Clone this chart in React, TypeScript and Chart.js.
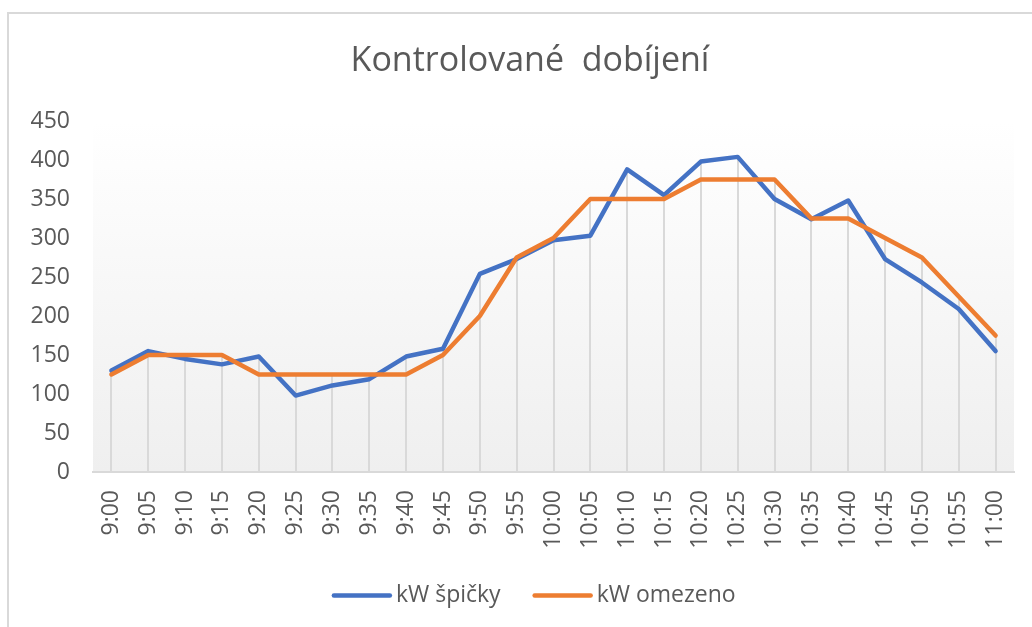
import React, { useEffect, useRef } from "react";
import { Chart, registerables } from "chart.js";

Chart.register(...registerables);

const categories = [
  "9:00", "9:05", "9:10", "9:15", "9:20", "9:25", "9:30", "9:35", "9:40", "9:45",
  "9:50", "9:55", "10:00", "10:05", "10:10", "10:15", "10:20", "10:25", "10:30", "10:35",
  "10:40", "10:45", "10:50", "10:55", "11:00",
];
const peakKW = [
  130, 155, 145, 138, 148, 98, 111, 119, 148, 158,
  254, 273, 297, 303, 388, 355, 398, 404, 350, 324,
  348, 273, 243, 209, 155,
];
const limitedKW = [
  125, 150, 150, 150, 125, 125, 125, 125, 125, 150,
  200, 275, 300, 350, 350, 350, 375, 375, 375, 325,
  325, 300, 275, 225, 175,
];
const seriesNames = ["kW špičky", "kW omezeno"];
const titleText = "Kontrolované  dobíjení";
const yMin = 0;
const yMax = 450;
const yStep = 50;

const FONT = "'Open Sans', sans-serif";
const TEXT = "#595959";
const GRID = "#d9d9d9";
const BLUE = "#4472C4";
const ORANGE = "#ED7D31";
const LEGEND_FONT = 23;
const LEGEND_LINE = 60;
const LEGEND_SHIFT = 7.5;

const plotBackground = {
  id: "plotBackground",
  beforeDraw(chart: any) {
    const { ctx, chartArea } = chart;
    if (!chartArea) return;
    const g = ctx.createLinearGradient(0, chartArea.top, 0, chartArea.bottom);
    g.addColorStop(0, "#ffffff");
    g.addColorStop(1, "#efefef");
    ctx.save();
    ctx.fillStyle = g;
    ctx.fillRect(chartArea.left, chartArea.top, chartArea.right - chartArea.left, chartArea.bottom - chartArea.top);
    ctx.restore();
  },
};

const dropLines = {
  id: "dropLines",
  beforeDatasetsDraw(chart: any) {
    const { ctx, scales } = chart;
    const xs = scales.x;
    const ys = scales.y;
    const ds = chart.data.datasets;
    ctx.save();
    ctx.strokeStyle = GRID;
    ctx.lineWidth = 2;
    for (let i = 0; i < chart.data.labels.length; i++) {
      let m = -Infinity;
      ds.forEach((d: any) => { m = Math.max(m, d.data[i]); });
      const x = Math.round(xs.getPixelForValue(i));
      ctx.beginPath();
      ctx.moveTo(x, ys.getPixelForValue(yMin));
      ctx.lineTo(x, ys.getPixelForValue(m));
      ctx.stroke();
    }
    ctx.restore();
  },
};

// Legend sample lines, placed from the legend's own computed hit boxes
const legendLines = {
  id: "legendLines",
  afterDraw(chart: any) {
    const legend = chart.legend;
    if (!legend || !legend.legendHitBoxes) return;
    const { ctx } = chart;
    ctx.save();
    ctx.lineWidth = 4.5;
    ctx.lineCap = "round";
    legend.legendHitBoxes.forEach((hb: any, i: number) => {
      const d = chart.data.datasets[i];
      const y = hb.top + LEGEND_FONT / 2;
      ctx.strokeStyle = d.borderColor;
      ctx.beginPath();
      ctx.moveTo(hb.left + LEGEND_SHIFT + 2, y);
      ctx.lineTo(hb.left + LEGEND_SHIFT + LEGEND_LINE - 2, y);
      ctx.stroke();
    });
    ctx.restore();
  },
};

export default function App() {
  const ref = useRef<HTMLCanvasElement | null>(null);

  useEffect(() => {
    if (!ref.current) return;
    const chart = new Chart(ref.current, {
      type: "line",
      data: {
        labels: categories,
        datasets: [
          {
            label: seriesNames[0],
            data: peakKW,
            borderColor: BLUE,
            backgroundColor: BLUE,
            borderWidth: 4.5,
            pointRadius: 0,
            tension: 0,
            borderJoinStyle: "round",
            borderCapStyle: "round",
            order: 1,
          },
          {
            label: seriesNames[1],
            data: limitedKW,
            borderColor: ORANGE,
            backgroundColor: ORANGE,
            borderWidth: 4.5,
            pointRadius: 0,
            tension: 0,
            borderJoinStyle: "round",
            borderCapStyle: "round",
            order: 0,
          },
        ],
      },
      options: {
        responsive: false,
        animation: false,
        devicePixelRatio: 1,
        layout: { padding: { left: 10, right: 10, top: 14, bottom: 10 } },
        plugins: {
          title: {
            display: true,
            text: titleText,
            color: TEXT,
            font: { family: FONT, size: 34, weight: "normal", lineHeight: 1.2 },
            padding: { top: 26.6, bottom: 39.6 },
          },
          legend: {
            position: "bottom",
            labels: {
              color: TEXT,
              font: { family: FONT, size: LEGEND_FONT },
              boxWidth: LEGEND_LINE,
              boxHeight: 4,
              padding: 24.5,
              generateLabels: (c: any) =>
                c.data.datasets.map((d: any, i: number) => ({
                  text: d.label,
                  fillStyle: "rgba(0,0,0,0)",
                  strokeStyle: "rgba(0,0,0,0)",
                  lineWidth: 0,
                  fontColor: TEXT,
                  datasetIndex: i,
                  hidden: false,
                })),
            },
          },
          tooltip: { enabled: false },
        },
        scales: {
          x: {
            type: "category",
            offset: true,
            grid: { display: false, offset: false, drawTicks: false },
            border: { display: true, color: GRID, width: 2 },
            ticks: {
              color: TEXT,
              font: { family: FONT, size: 23 },
              minRotation: 90,
              maxRotation: 90,
              autoSkip: false,
              padding: 18,
            },
            afterFit: (s: any) => { s.height = 87.5; },
          },
          y: {
            min: yMin,
            max: yMax,
            grid: { display: false, drawTicks: false },
            border: { display: false },
            ticks: {
              stepSize: yStep,
              color: TEXT,
              font: { family: FONT, size: 23 },
              padding: 23,
            },
            afterFit: (s: any) => { s.width = 83; },
          },
          spacer: {
            type: "linear",
            position: "right",
            display: true,
            grid: { display: false, drawTicks: false },
            border: { display: false },
            ticks: { display: false },
            afterFit: (s: any) => { s.width = 36; },
          },
        },
      },
      plugins: [plotBackground, dropLines, legendLines],
    });
    return () => chart.destroy();
  }, []);

  return (
    <div
      style={{
        position: "fixed",
        left: 0,
        top: 0,
        width: 1032,
        height: 627,
        overflow: "hidden",
        background: "#ffffff",
      }}
    >
      <canvas ref={ref} width={1060} height={627} style={{ position: "absolute", left: 0, top: 0, width: 1060, height: 627 }} />
      <div
        style={{
          position: "absolute",
          left: 7,
          top: 12,
          width: 1100,
          height: 700,
          borderLeft: `2px solid ${GRID}`,
          borderTop: `2px solid ${GRID}`,
          pointerEvents: "none",
        }}
      />
    </div>
  );
}
